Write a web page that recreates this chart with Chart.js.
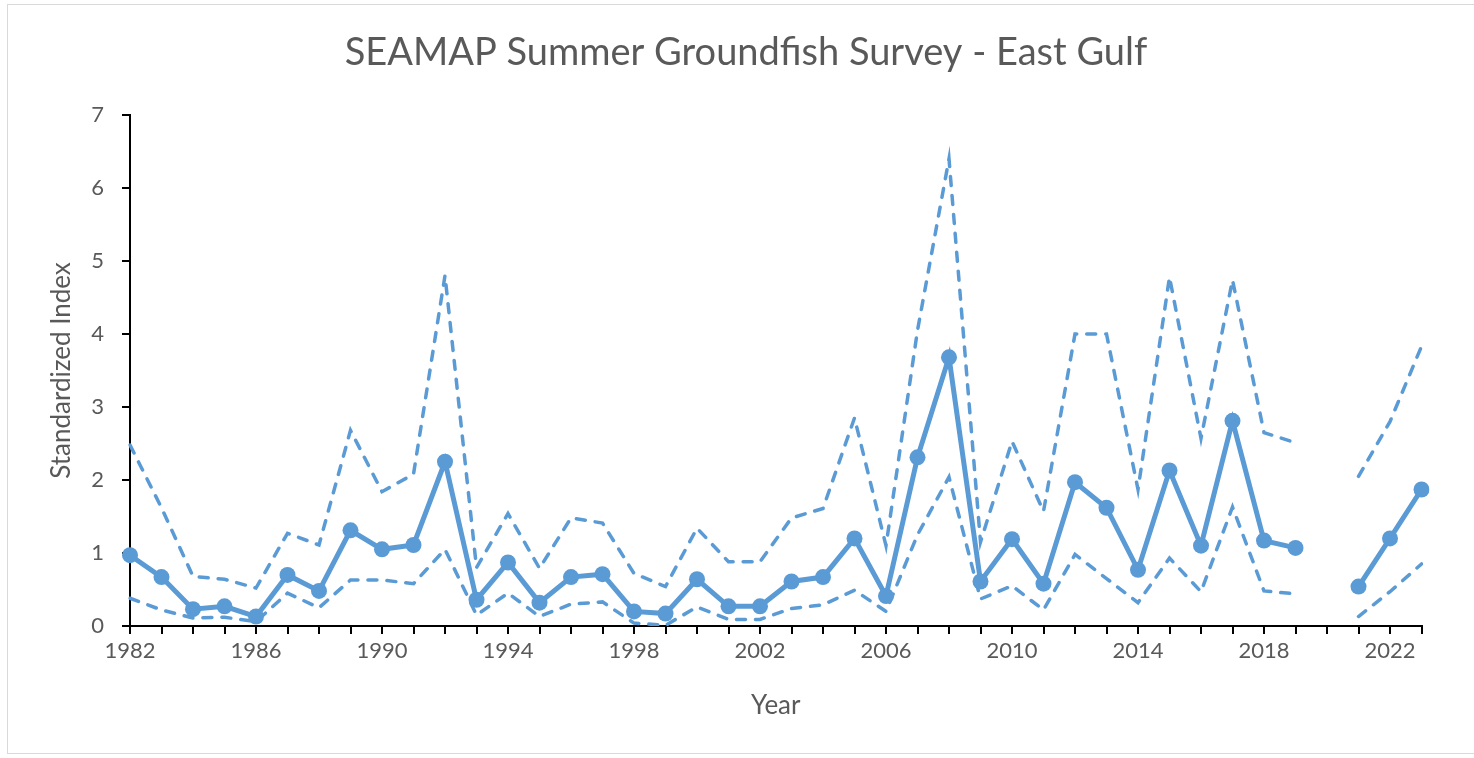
<!DOCTYPE html>
<html>
<head>
<meta charset="utf-8">
<title>SEAMAP Summer Groundfish Survey - East Gulf</title>
<script src="https://cdn.jsdelivr.net/npm/chart.js@4.4.1/dist/chart.umd.min.js"></script>
<style>
  html, body { margin: 0; padding: 0; background: #fff; }
  #wrap { position: relative; width: 1474px; height: 758px; }
</style>
</head>
<body>
<div id="wrap"><canvas id="chart" width="1474" height="758"></canvas></div>
<script>
// survey years, 2020 has no index
const years = ['1982', '1983', '1984', '1985', '1986', '1987', '1988', '1989', '1990', '1991',
  '1992', '1993', '1994', '1995', '1996', '1997', '1998', '1999', '2000', '2001',
  '2002', '2003', '2004', '2005', '2006', '2007', '2008', '2009', '2010', '2011',
  '2012', '2013', '2014', '2015', '2016', '2017', '2018', '2019', '2020', '2021',
  '2022', '2023'];

const indexValues = [0.97, 0.67, 0.23, 0.27, 0.13, 0.70, 0.48, 1.31, 1.05, 1.11,
  2.25, 0.36, 0.87, 0.32, 0.67, 0.71, 0.20, 0.17, 0.64, 0.27,
  0.27, 0.61, 0.67, 1.20, 0.41, 2.31, 3.68, 0.61, 1.19, 0.58,
  1.97, 1.62, 0.77, 2.13, 1.10, 2.81, 1.17, 1.07, null, 0.54,
  1.20, 1.87];

const upperCI = [2.48, 1.62, 0.68, 0.64, 0.52, 1.27, 1.11, 2.68, 1.84, 2.08,
  4.80, 0.80, 1.54, 0.79, 1.48, 1.41, 0.72, 0.54, 1.34, 0.88,
  0.88, 1.48, 1.61, 2.85, 1.10, 4.05, 6.40, 1.15, 2.53, 1.57,
  4.00, 4.00, 1.87, 4.78, 2.57, 4.74, 2.65, 2.51, null, 2.05,
  2.80, 3.83];

const lowerCI = [0.38, 0.22, 0.11, 0.12, 0.06, 0.45, 0.25, 0.63, 0.63, 0.58,
  1.05, 0.15, 0.45, 0.13, 0.30, 0.33, 0.04, 0.01, 0.26, 0.09,
  0.09, 0.24, 0.29, 0.49, 0.20, 1.25, 2.04, 0.37, 0.55, 0.22,
  0.98, 0.65, 0.32, 0.93, 0.47, 1.63, 0.48, 0.44, null, 0.13,
  0.47, 0.85];

const yTicks = [0, 1, 2, 3, 4, 5, 6, 7];

const blue = '#5B9BD5';
const grey = '#595959';
const fontFamily = 'Lato, "Open Sans", sans-serif';

// light frame around the whole chart, like the Excel chart border
const framePlugin = {
  id: 'frame',
  beforeDraw(chart) {
    const ctx = chart.ctx;
    ctx.save();
    ctx.fillStyle = '#fff';
    ctx.fillRect(0, 0, chart.width, chart.height);
    ctx.strokeStyle = '#d9d9d9';
    ctx.lineWidth = 1;
    ctx.strokeRect(7.5, 4.5, 1500, 749);
    ctx.restore();
  }
};

const dashedLine = (label, data) => ({
  label: label,
  data: data,
  borderColor: blue,
  borderWidth: 3.5,
  borderDash: [9, 10],
  borderCapStyle: 'round',
  pointRadius: 0,
  tension: 0,
  spanGaps: false,
  fill: false
});

new Chart(document.getElementById('chart'), {
  type: 'line',
  data: {
    labels: years,
    datasets: [
      {
        label: 'Standardized Index',
        data: indexValues,
        borderColor: blue,
        backgroundColor: blue,
        borderWidth: 5,
        pointRadius: 8,
        pointBorderWidth: 0,
        pointBackgroundColor: blue,
        tension: 0,
        spanGaps: false,
        fill: false
      },
      dashedLine('Upper CI', upperCI),
      dashedLine('Lower CI', lowerCI)
    ]
  },
  options: {
    responsive: false,
    animation: false,
    layout: { padding: { left: 18, right: 0, top: 0, bottom: 0 } },
    plugins: {
      legend: { display: false },
      tooltip: { enabled: false },
      title: {
        display: true,
        text: 'SEAMAP Summer Groundfish Survey - East Gulf',
        color: grey,
        font: { family: fontFamily, size: 38, weight: 'normal', lineHeight: 1.2 },
        padding: { top: 30.2, bottom: 39.2 }
      }
    },
    scales: {
      x: {
        type: 'category',
        offset: false,
        grid: { drawOnChartArea: false, drawTicks: true, tickLength: 8, color: '#000', lineWidth: 2 },
        border: { display: true, color: '#000', width: 2 },
        ticks: {
          autoSkip: false,
          maxRotation: 0,
          color: grey,
          padding: 4,
          font: { family: fontFamily, size: 22 },
          callback: (val, i) => (i % 4 === 0 ? years[i] : '')
        },
        title: {
          display: true,
          text: 'Year',
          color: grey,
          font: { family: fontFamily, size: 26, lineHeight: 1.2 },
          padding: { top: 0, bottom: 36.4 }
        },
        afterFit: (scale) => { scale.height = 132; }
      },
      y: {
        min: 0,
        max: 7,
        grid: { drawOnChartArea: false, drawTicks: true, tickLength: 8, color: '#000', lineWidth: 2 },
        border: { display: true, color: '#000', width: 2 },
        afterBuildTicks: (scale) => { scale.ticks = yTicks.map(v => ({ value: v })); },
        ticks: {
          color: grey,
          padding: 18,
          font: { family: fontFamily, size: 22 }
        },
        title: {
          display: true,
          text: 'Standardized Index',
          color: grey,
          font: { family: fontFamily, size: 26, lineHeight: 1.2 },
          padding: { top: 28.4, bottom: 0 }
        },
        afterFit: (scale) => { scale.width = 112; }
      },
      // empty right-hand box so the title centres like the original frame
      yRight: {
        type: 'linear',
        position: 'right',
        display: true,
        grid: { display: false },
        border: { display: false },
        ticks: { display: false },
        afterFit: (scale) => { scale.width = 52.5; }
      }
    }
  },
  plugins: [framePlugin]
});
</script>
</body>
</html>
